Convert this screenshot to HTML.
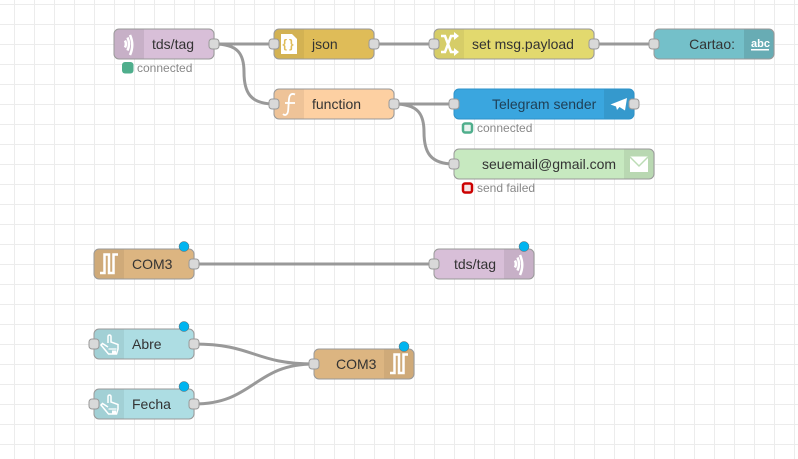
<!DOCTYPE html>
<html><head><meta charset="utf-8"><style>
html,body{margin:0;padding:0;background:#fff}
svg{display:block;filter:blur(.3px)}
text{font-family:"Liberation Sans",sans-serif}
.l{font-size:14px;fill:#333}
.s{font-size:12px;fill:#888}
.n{stroke:#999;stroke-width:1}
.p{fill:#d9d9d9;stroke:#999;stroke-width:1}
.w{fill:none;stroke:#999;stroke-width:3}
.i{fill:none;stroke:#fff;stroke-width:2.500}
.d{fill:#00b4f0;stroke:#666;stroke-width:.5}
</style></head><body>
<svg xmlns="http://www.w3.org/2000/svg" width="798" height="459" viewBox="0 0 798 459">
<defs><pattern id="g" width="20" height="20" x="14" y="4" patternUnits="userSpaceOnUse"><path d="M0.5 0V20M0 .5H20" fill="none" stroke="#ececec" stroke-width="1"/></pattern></defs>
<rect width="798" height="459" fill="#fff"/><rect width="798" height="459" fill="url(#g)"/>

<path class="w" d="M214 44H274M374 44H434M594 44H654M214 44C238 44 244 54 244 72C244 92 250 104 274 104M394 104H454M394 104C418 104 424 114 424 132C424 152 430 164 454 164M194 264H434M194 344C254 344 254 364 314 364M194 404C254 404 254 364 314 364"/>

<!-- tds/tag -->
<rect class="n" x="114" y="29" width="100" height="30" rx="5" fill="#d8bfd8"/>
<path d="M119 29.500H144V58.500H119a4.500 4.500 0 0 1-4.500-4.500V34a4.500 4.500 0 0 1 4.500-4.500Z" fill="#000" opacity=".08"/>
<path class="i" d="M125 40.500Q126.800 44 125 47.500M127.500 37.500Q130.500 44 127.500 50.500" stroke-width="1.500"/>
<path class="i" d="M130 35Q134.500 45 130 55" stroke-width="2"/>
<text class="l" x="152" y="49">tds/tag</text>
<rect class="p" x="209" y="39" width="10" height="10" rx="3"/>
<rect x="122" y="62" width="11.500" height="11.500" rx="3" fill="#4fae8c"/>
<text class="s" x="137" y="72">connected</text>

<!-- json -->
<rect class="n" x="274" y="29" width="100" height="30" rx="5" fill="#dfbc58"/>
<path d="M279 29.500H304V58.500H279a4.500 4.500 0 0 1-4.500-4.500V34a4.500 4.500 0 0 1 4.500-4.500Z" fill="#000" opacity=".05"/>
<path d="M281 34H292L297 39V54H281Z" fill="#fff"/>
<text x="289" y="48" text-anchor="middle" font-size="12" font-weight="bold" letter-spacing="2" style="fill:#dfbc58">{}</text>
<text class="l" x="312" y="49">json</text>
<rect class="p" x="269" y="39" width="10" height="10" rx="3"/>
<rect class="p" x="369" y="39" width="10" height="10" rx="3"/>

<!-- set msg.payload -->
<rect class="n" x="434" y="29" width="160" height="30" rx="5" fill="#e2d96e"/>
<path d="M439 29.500H464V58.500H439a4.500 4.500 0 0 1-4.500-4.500V34a4.500 4.500 0 0 1 4.500-4.500Z" fill="#000" opacity=".05"/>
<path class="i" d="M441 36H445L451 52H455M441 52H445L451 36H455"/>
<path d="M454 32L459 36L454 40ZM454 48L459 52L454 56Z" fill="#fff"/>
<text class="l" x="472" y="49">set msg.payload</text>
<rect class="p" x="429" y="39" width="10" height="10" rx="3"/>
<rect class="p" x="589" y="39" width="10" height="10" rx="3"/>

<!-- Cartao -->
<rect class="n" x="654" y="29" width="120" height="30" rx="5" fill="#74c0c9"/>
<path d="M744 29.500H769a4.500 4.500 0 0 1 4.500 4.500V54a4.500 4.500 0 0 1-4.500 4.500H744Z" fill="#000" opacity=".1"/>
<text x="751" y="47" font-size="11" font-weight="bold" style="fill:#fff">abc</text>
<rect x="751" y="49" width="18" height="1.500" fill="#fff"/>
<text class="l" x="735" y="49" text-anchor="end">Cartao:</text>
<rect class="p" x="649" y="39" width="10" height="10" rx="3"/>

<!-- function -->
<rect class="n" x="274" y="89" width="120" height="30" rx="5" fill="#fdd0a2"/>
<path d="M279 89.500H304V118.500H279a4.500 4.500 0 0 1-4.500-4.500V94a4.500 4.500 0 0 1 4.500-4.500Z" fill="#000" opacity=".06"/>
<path class="i" style="stroke-width:1.800" d="M295 94.500C290.500 92.500 289 96 288.800 101L288.200 110C287.800 115 285 116 283 114M285 103H295"/>
<text class="l" x="312" y="109">function</text>
<rect class="p" x="269" y="99" width="10" height="10" rx="3"/>
<rect class="p" x="389" y="99" width="10" height="10" rx="3"/>

<!-- Telegram -->
<rect x="454" y="89" width="180" height="30" rx="5" fill="#3aa6df" stroke="#2f92c8"/>
<path d="M604 89.500H629a4.500 4.500 0 0 1 4.500 4.500V114a4.500 4.500 0 0 1-4.500 4.500H604Z" fill="#000" opacity=".08"/>
<path d="M610.500 104.500L627 98L625 110.500L619.500 107L617 110L616 106.500Z" fill="#fff"/>
<text class="l" x="492" y="109" style="fill:#1f3f55">Telegram sender</text>
<rect class="p" x="449" y="99" width="10" height="10" rx="3"/>
<rect class="p" x="629" y="99" width="10" height="10" rx="3"/>
<rect x="463" y="123.500" width="9" height="9" rx="2" fill="#e8f2ee" stroke="#4fae8c" stroke-width="2.500"/>
<text class="s" x="477" y="132">connected</text>

<!-- email -->
<rect class="n" x="454" y="149" width="200" height="30" rx="5" fill="#c7e9c0"/>
<path d="M624 149.500H649a4.500 4.500 0 0 1 4.500 4.500V174a4.500 4.500 0 0 1-4.500 4.500H624Z" fill="#000" opacity=".07"/>
<rect x="630" y="156.500" width="18" height="15.500" fill="#fff"/>
<path d="M630 157L639 166L648 157" fill="none" stroke="#bcdcb5" stroke-width="1.500"/>
<text class="l" x="482" y="169">seuemail@gmail.com</text>
<rect class="p" x="449" y="159" width="10" height="10" rx="3"/>
<rect x="463" y="183.500" width="9" height="9" rx="2" fill="#f4e4e4" stroke="#c00" stroke-width="2.500"/>
<text class="s" x="477" y="192">send failed</text>

<!-- COM3 in -->
<rect class="n" x="94" y="249" width="100" height="30" rx="5" fill="#dcb581"/>
<path d="M99 249.500H124V278.500H99a4.500 4.500 0 0 1-4.500-4.500V254a4.500 4.500 0 0 1 4.500-4.500Z" fill="#000" opacity=".06"/>
<path class="i" d="M100 273H104.500V254.500H109V273H113.500V254.500H118"/>
<text class="l" x="132" y="269">COM3</text>
<rect class="p" x="189" y="259" width="10" height="10" rx="3"/>
<circle class="d" cx="184" cy="246.500" r="5"/>

<!-- tds/tag out -->
<rect class="n" x="434" y="249" width="100" height="30" rx="5" fill="#d8bfd8"/>
<path d="M504 249.500H529a4.500 4.500 0 0 1 4.500 4.500V274a4.500 4.500 0 0 1-4.500 4.500H504Z" fill="#000" opacity=".08"/>
<path class="i" d="M515 260.500Q516.800 264 515 267.500M517.500 257.500Q520.500 264 517.500 270.500" stroke-width="1.500"/>
<path class="i" d="M520 255Q524.500 265 520 275" stroke-width="2"/>
<text class="l" x="454" y="269">tds/tag</text>
<rect class="p" x="429" y="259" width="10" height="10" rx="3"/>
<circle class="d" cx="524" cy="246.500" r="5"/>

<!-- Abre -->
<rect class="n" x="94" y="329" width="100" height="30" rx="5" fill="#addde3"/>
<path d="M99 329.500H124V358.500H99a4.500 4.500 0 0 1-4.500-4.500V334a4.500 4.500 0 0 1 4.500-4.500Z" fill="#000" opacity=".06"/>
<path d="M108 343V336.500a1.500 1.500 0 0 1 3 0V342L118 344.500V349L116.500 354H108.500L101 345L102.500 343.500L108 347" fill="none" stroke="#fff" stroke-width="1.500"/>
<path d="M108.500 349H116.500" stroke="#fff" stroke-width="1.200"/>
<rect x="112" y="350.500" width="4" height="3" fill="#fff"/>
<text class="l" x="132" y="349">Abre</text>
<rect class="p" x="89" y="339" width="10" height="10" rx="3"/>
<rect class="p" x="189" y="339" width="10" height="10" rx="3"/>
<circle class="d" cx="184" cy="326.500" r="5"/>

<!-- Fecha -->
<rect class="n" x="94" y="389" width="100" height="30" rx="5" fill="#addde3"/>
<path d="M99 389.500H124V418.500H99a4.500 4.500 0 0 1-4.500-4.500V394a4.500 4.500 0 0 1 4.500-4.500Z" fill="#000" opacity=".06"/>
<path d="M108 403V396.500a1.500 1.500 0 0 1 3 0V402L118 404.500V409L116.500 414H108.500L101 405L102.500 403.500L108 407" fill="none" stroke="#fff" stroke-width="1.500"/>
<path d="M108.500 409H116.500" stroke="#fff" stroke-width="1.200"/>
<rect x="112" y="410.500" width="4" height="3" fill="#fff"/>
<text class="l" x="132" y="409">Fecha</text>
<rect class="p" x="89" y="399" width="10" height="10" rx="3"/>
<rect class="p" x="189" y="399" width="10" height="10" rx="3"/>
<circle class="d" cx="184" cy="386.500" r="5"/>

<!-- COM3 out -->
<rect class="n" x="314" y="349" width="100" height="30" rx="5" fill="#dcb581"/>
<path d="M384 349.500H409a4.500 4.500 0 0 1 4.500 4.500V374a4.500 4.500 0 0 1-4.500 4.500H384Z" fill="#000" opacity=".06"/>
<path class="i" d="M390 373H394.500V354.500H399V373H403.500V354.500H408"/>
<text class="l" x="336" y="369">COM3</text>
<rect class="p" x="309" y="359" width="10" height="10" rx="3"/>
<circle class="d" cx="404" cy="346.500" r="5"/>
</svg>
</body></html>
